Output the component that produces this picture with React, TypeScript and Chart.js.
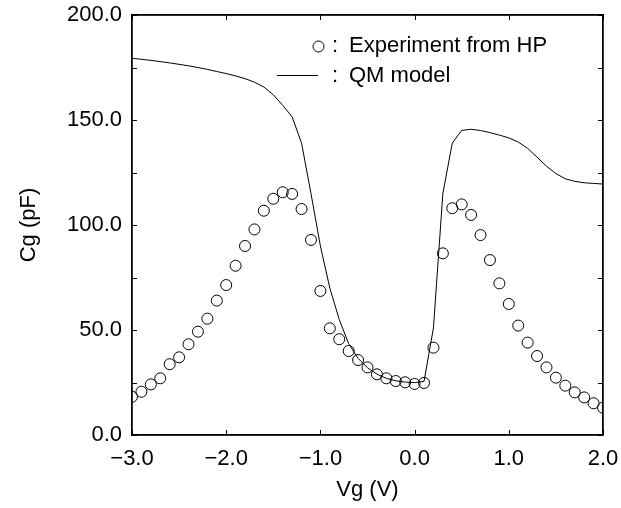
import React, { useEffect, useRef } from "react";
import { Chart, registerables } from "chart.js";

Chart.register(...registerables);

const expVg = [
  -3.0, -2.9, -2.8, -2.7, -2.6, -2.5, -2.4, -2.3, -2.2, -2.1,
  -2.0, -1.9, -1.8, -1.7, -1.6, -1.5, -1.4, -1.3, -1.2, -1.1,
  -1.0, -0.9, -0.8, -0.7, -0.6, -0.5, -0.4, -0.3, -0.2, -0.1,
  0.0, 0.1, 0.2, 0.3, 0.4, 0.5, 0.6, 0.7, 0.8, 0.9,
  1.0, 1.1, 1.2, 1.3, 1.4, 1.5, 1.6, 1.7, 1.8, 1.9, 2.0,
];
const expCg = [
  18.2, 20.6, 24.1, 27.0, 33.7, 37.0, 43.2, 49.2, 55.4, 64.0,
  71.4, 80.6, 90.0, 97.9, 106.8, 112.5, 115.6, 114.8, 107.6, 92.9,
  68.6, 50.8, 45.6, 40.0, 35.7, 32.2, 28.9, 27.0, 25.7, 25.1,
  24.3, 24.8, 41.6, 86.5, 108.0, 109.8, 104.8, 95.2, 83.3, 72.2,
  62.4, 52.1, 44.0, 37.6, 32.2, 27.3, 23.5, 20.3, 17.9, 15.1, 13.0,
];

const qmVg = [
  -3.0, -2.9, -2.8, -2.7, -2.6, -2.5, -2.4, -2.3, -2.2, -2.1,
  -2.0, -1.9, -1.8, -1.7, -1.6, -1.5, -1.4, -1.3, -1.2, -1.1,
  -1.0, -0.9, -0.8, -0.7, -0.6, -0.5, -0.4, -0.3, -0.2, -0.1,
  0.0, 0.1, 0.2, 0.3, 0.4, 0.5, 0.6, 0.7, 0.8, 0.9,
  1.0, 1.1, 1.2, 1.3, 1.4, 1.5, 1.6, 1.7, 1.8, 1.9, 2.0,
];
const qmCg = [
  179.4, 178.9, 178.4, 177.8, 177.2, 176.5, 175.8, 175.0, 174.1, 173.1,
  172.1, 171.0, 169.7, 168.0, 165.7, 162.0, 157.0, 151.5, 139.0, 115.0,
  90.0, 70.0, 55.0, 43.5, 36.5, 32.0, 29.0, 27.0, 25.8, 25.2,
  25.0, 25.5, 51.0, 115.0, 139.0, 145.0, 145.6, 145.0, 144.0, 142.8,
  141.5, 139.5, 136.5, 132.3, 128.0, 124.5, 122.0, 120.8, 120.1, 119.8, 119.5,
];

const xTicks = [-3, -2, -1, 0, 1, 2];
const yMinorTicks = [0, 25, 50, 75, 100, 125, 150, 175, 200];
const legendLabels = ["Experiment from HP", "QM model"];
const xTitle = "Vg (V)";
const yTitle = "Cg (pF)";

const FONT = "'Liberation Sans', Arial, Helvetica, sans-serif";
const FS = 22;

const fmt = (v: number) => (v < 0 ? "\u2212" : "") + Math.abs(v).toFixed(1);

const framePlugin = {
  id: "frameTicks",
  afterDraw(chart: any) {
    const ctx = chart.ctx;
    const xs = chart.scales.x;
    const ys = chart.scales.y;
    const a = chart.chartArea;
    const l = Math.round(a.left);
    const r = Math.round(a.right);
    const t = Math.round(a.top);
    const b = Math.round(a.bottom);
    ctx.save();
    ctx.globalCompositeOperation = "source-over";
    ctx.globalAlpha = 1;
    ctx.lineWidth = 1.3;
    ctx.strokeStyle = "#000000";
    ctx.beginPath();
    ctx.rect(l, t, r - l, b - t);
    ctx.stroke();
    ctx.fillStyle = "#000000";
    const L = 5;
    for (const v of xTicks) {
      const px = Math.round(xs.getPixelForValue(v));
      ctx.fillRect(px, b - L, 1, L);
      ctx.fillRect(px, t, 1, L);
    }
    for (const v of yMinorTicks) {
      const py = Math.round(ys.getPixelForValue(v));
      ctx.fillRect(l, py, L, 1);
      ctx.fillRect(r - L, py, L, 1);
    }

    // legend
    ctx.lineWidth = 1;
    ctx.font = `${FS}px ${FONT}`;
    ctx.textBaseline = "middle";
    ctx.textAlign = "left";
    ctx.beginPath();
    ctx.arc(318.5, 46.5, 5.5, 0, Math.PI * 2);
    ctx.stroke();
    ctx.fillText(":", 332, 46);
    ctx.fillText(legendLabels[0], 349, 46);
    ctx.fillRect(277, 75, 41, 1);
    ctx.fillText(":", 332, 76);
    ctx.fillText(legendLabels[1], 349, 76);
    ctx.restore();
  },
};

const borderOpts = { display: true, color: "#000000", width: 1.3 };

export default function App() {
  const ref = useRef<HTMLCanvasElement>(null);
  useEffect(() => {
    if (!ref.current) return;
    const chart = new Chart(ref.current, {
      type: "scatter",
      data: {
        datasets: [
          {
            label: legendLabels[0],
            data: expVg.map((x, i) => ({ x, y: expCg[i] })),
            showLine: false,
            pointStyle: "circle",
            pointRadius: 5.5,
            pointBorderWidth: 1,
            pointBorderColor: "#000",
            pointBackgroundColor: "rgba(0,0,0,0)",
          },
          {
            label: legendLabels[1],
            data: qmVg.map((x, i) => ({ x, y: qmCg[i] })),
            showLine: true,
            borderColor: "#000",
            borderWidth: 1,
            pointRadius: 0,
            tension: 0,
          },
        ],
      },
      options: {
        responsive: false,
        animation: false,
        layout: { padding: { top: 15, right: 18, left: 0, bottom: 0 } },
        plugins: { legend: { display: false }, tooltip: { enabled: false } },
        scales: {
          x: {
            type: "linear",
            min: -3,
            max: 2,
            afterBuildTicks: (s: any) => {
              s.ticks = xTicks.map((v) => ({ value: v }));
            },
            afterFit: (s: any) => {
              s.height = 73;
              s.paddingLeft = 0;
              s.paddingRight = 0;
            },
            grid: { display: false, drawTicks: false },
            border: borderOpts,
            ticks: {
              color: "#000",
              font: { family: FONT, size: FS },
              padding: 11,
              maxRotation: 0,
              autoSkip: false,
              callback: (v: any) => fmt(Number(v)),
            },
            title: {
              display: true,
              text: xTitle,
              color: "#000",
              font: { family: FONT, size: FS },
              padding: { top: 0, bottom: 5 },
            },
          },
          x2: {
            type: "linear",
            position: "top",
            min: -3,
            max: 2,
            grid: { display: false, drawTicks: false },
            border: borderOpts,
            ticks: { display: false },
            afterFit: (s: any) => {
              s.height = 0;
              s.paddingLeft = 0;
              s.paddingRight = 0;
            },
          },
          y: {
            type: "linear",
            min: 0,
            max: 200,
            ticks: {
              stepSize: 50,
              color: "#000",
              font: { family: FONT, size: FS },
              padding: 10,
              callback: (v: any) => fmt(Number(v)),
            },
            afterFit: (s: any) => {
              s.width = 132;
              s.paddingTop = 0;
              s.paddingBottom = 0;
            },
            grid: { display: false, drawTicks: false },
            border: borderOpts,
            title: {
              display: true,
              text: yTitle,
              color: "#000",
              font: { family: FONT, size: FS },
              padding: { top: 16, bottom: 0 },
            },
          },
          y2: {
            type: "linear",
            position: "right",
            min: 0,
            max: 200,
            grid: { display: false, drawTicks: false },
            border: borderOpts,
            ticks: { display: false },
            afterFit: (s: any) => {
              s.width = 0;
              s.paddingTop = 0;
              s.paddingBottom = 0;
            },
          },
        },
      },
      plugins: [framePlugin],
    });
    return () => chart.destroy();
  }, []);
  return (
    <div style={{ position: "absolute", left: 0, top: 0, width: 621, height: 508, background: "#fff" }}>
      <canvas ref={ref} width={621} height={508} />
    </div>
  );
}
